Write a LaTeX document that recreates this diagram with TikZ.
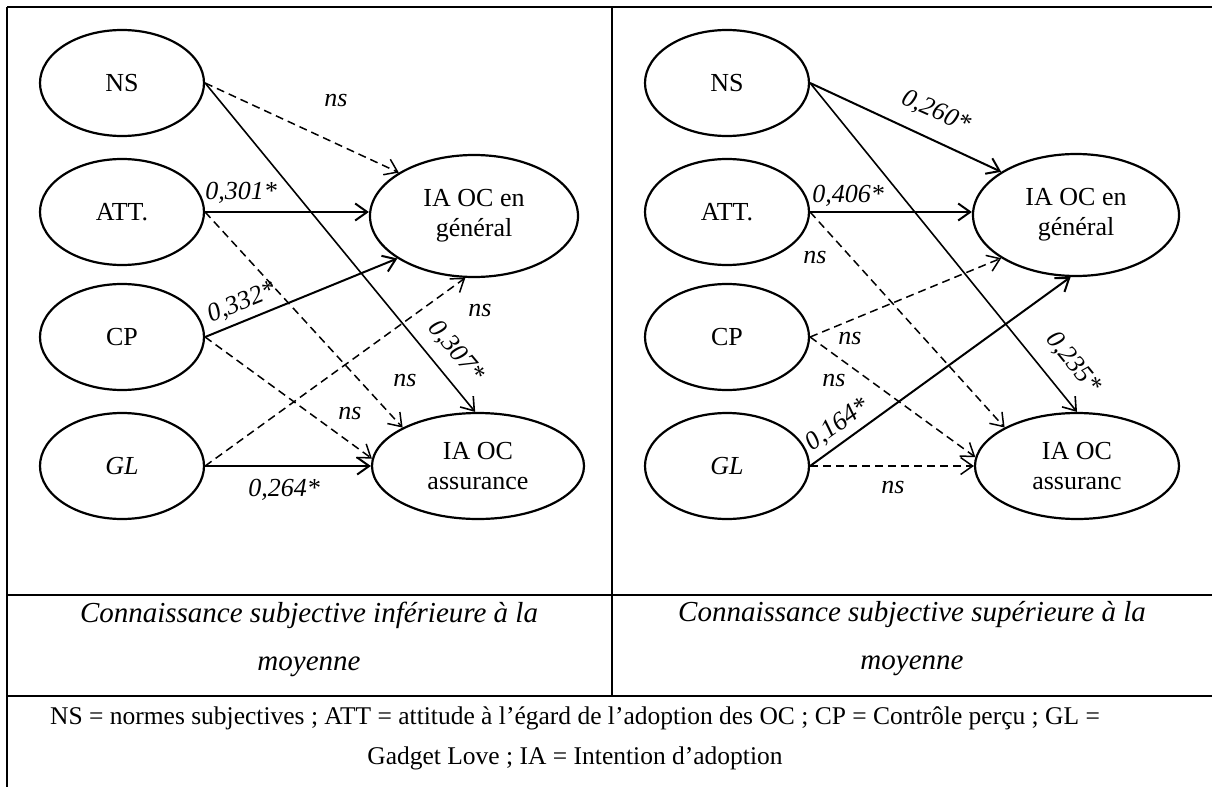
\documentclass[tikz,border=0pt]{standalone}
\usepackage{fontspec}
\setmainfont{Liberation Serif}
\usetikzlibrary{shapes.geometric,arrows.meta}

\begin{document}
\begin{tikzpicture}[x=1pt,y=-1pt,
    latent/.style={ellipse, draw, line width=2.2pt, minimum width=164pt, minimum height=106pt, inner sep=0pt, font=\fontsize{26}{30}\selectfont},
    target/.style={ellipse, draw, line width=2.2pt, inner sep=0pt, align=center, font=\fontsize{26}{30}\selectfont},
    sig/.style={line width=2pt, -{Straight Barb[length=12pt,width=17pt]}},
    nsig/.style={line width=1.5pt, dash pattern=on 8pt off 5pt, -{Straight Barb[length=12pt,width=17pt]}},
    coef/.style={font=\fontsize{26}{30}\selectfont\itshape, inner sep=0pt},
    tabline/.style={line width=2pt}]
    \useasboundingbox (0,0) rectangle (1212,787);

    % table
    \draw[tabline] (7,7) -- (1212,7);
    \draw[tabline] (7,7) -- (7,787);
    \draw[tabline] (612,7) -- (612,696);
    \draw[tabline] (7,595) -- (1212,595);
    \draw[tabline] (7,696) -- (1212,696);

    % left panel
    \node (nsL) at (122,83) [latent] {NS};
    \node (attL) at (122,212) [latent] {ATT.};
    \node (cpL) at (122,337) [latent] {CP};
    \node (glL) at (122,466) [latent] {\textit{GL}};
    \node (genL) at (474,216) [target, minimum width=208pt, minimum height=122pt] {IA OC en\\général};
    \node (assL) at (478,466) [target, minimum width=212pt, minimum height=106pt] {IA OC\\assurance};

    \draw[nsig] (nsL.east) -- (genL.150);
    \draw[sig, line width=1.6pt] (nsL.east) -- (assL.93);
    \draw[sig] (attL.east) -- (attL.east -| genL.west);
    \draw[nsig] (attL.east) -- (assL.153);
    \draw[sig] (cpL.east) -- (genL.209);
    \draw[nsig] (cpL.east) -- (assL.176);
    \draw[nsig] (glL.east) -- (genL.262);
    \draw[sig] (glL.east) -- (assL.west);

    \node (l1) at (336,100) [coef] {ns};
    \node (l2) at (241,193) [coef] {0,301*};
    \node (l3) at (242,303) [coef, rotate=22] {0,332*};
    \node (l4) at (456,352) [coef, rotate=-50] {0,307*};
    \node (l5) at (480,310) [coef] {ns};
    \node (l6) at (405,380) [coef] {ns};
    \node (l7) at (350,413) [coef] {ns};
    \node (l8) at (284,490) [coef] {0,264*};

    % right panel
    \node (nsR) at (727,83) [latent] {NS};
    \node (attR) at (727,212) [latent] {ATT.};
    \node (cpR) at (727,337) [latent] {CP};
    \node (glR) at (727,466) [latent] {\textit{GL}};
    \node (genR) at (1076,215) [target, minimum width=206pt, minimum height=122pt] {IA OC en\\général};
    \node (assR) at (1077,466) [target, minimum width=204pt, minimum height=106pt] {IA OC\\assuranc};

    \draw[sig] (nsR.east) -- (genR.150);
    \draw[sig, line width=1.6pt] (nsR.east) -- (assR.90);
    \draw[sig] (attR.east) -- (attR.east -| genR.west);
    \draw[nsig] (attR.east) -- (assR.152);
    \draw[nsig] (cpR.east) -- (genR.210);
    \draw[nsig] (cpR.east) -- (assR.175);
    \draw[sig] (glR.east) -- (genR.265);
    \draw[nsig] (glR.east) -- (assR.west);

    \node (r1) at (936,112) [coef, rotate=-24] {0,260*};
    \node (r2) at (848,196) [coef] {0,406*};
    \node (r3) at (815,257) [coef] {ns};
    \node (r4) at (850,338) [coef] {ns};
    \node (r5) at (834,380) [coef] {ns};
    \node (r6) at (838,425) [coef, rotate=36] {0,164*};
    \node (r7) at (1073,363) [coef, rotate=-51] {0,235*};
    \node (r8) at (893,487) [coef] {ns};

    % captions
    \node (capL) at (309,639) [align=center, font=\fontsize{29}{48}\selectfont\itshape] {Connaissance subjective inférieure à la\\moyenne};
    \node (capR) at (912,639) [align=center, font=\fontsize{29}{48}\selectfont\itshape] {Connaissance subjective supérieure à la\\moyenne};
    \node (notes) at (575,738) [align=center, font=\fontsize{25.5}{40}\selectfont] {NS = normes subjectives ; ATT = attitude à l’égard de l’adoption des OC ; CP = Contrôle perçu ; GL =\\Gadget Love ; IA = Intention d’adoption};
\end{tikzpicture}
\end{document}
